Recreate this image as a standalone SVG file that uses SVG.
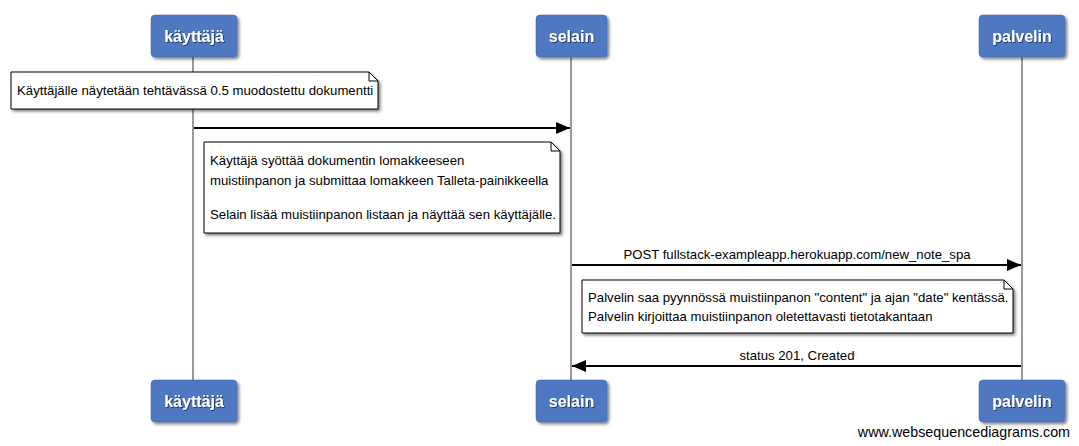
<svg xmlns="http://www.w3.org/2000/svg" width="1079" height="446" viewBox="0 0 1079 446">
<defs>
<style>
.actor rect.b{fill:#4f78c2;stroke:#3f63a8;stroke-width:0.5}
.actor text{font-family:"Liberation Sans",Arial,sans-serif;font-size:16px;font-weight:bold;fill:#fff;text-anchor:middle}
.note path.n{fill:#fff;stroke:#000;stroke-width:1}
.note text{font-family:"Liberation Sans",Arial,sans-serif;font-size:13.2px;fill:#000}
.lbl{font-family:"Liberation Sans",Arial,sans-serif;font-size:13.2px;fill:#000;text-anchor:middle}
.life{stroke:#999;stroke-width:2}
.msg{stroke:#000;stroke-width:2;fill:none}
</style>
<filter id="sh" x="-10%" y="-10%" width="130%" height="140%">
<feGaussianBlur in="SourceAlpha" stdDeviation="1.5"/>
<feOffset dx="2" dy="2" result="o"/>
<feComponentTransfer><feFuncA type="linear" slope="0.5"/></feComponentTransfer>
<feMerge><feMergeNode/><feMergeNode in="SourceGraphic"/></feMerge>
</filter>
<filter id="ts" x="-10%" y="-20%" width="130%" height="150%">
<feOffset dx="1" dy="1" in="SourceAlpha" result="o"/>
<feComponentTransfer in="o" result="o2"><feFuncA type="linear" slope="0.5"/></feComponentTransfer>
<feMerge><feMergeNode in="o2"/><feMergeNode in="SourceGraphic"/></feMerge>
</filter>
<marker id="ah" markerWidth="14" markerHeight="12" refX="14" refY="6" orient="auto" markerUnits="userSpaceOnUse">
<path d="M0,0 L14,6 L0,12 z" fill="#000"/>
</marker>
</defs>
<rect width="1079" height="446" fill="#fff"/>
<g id="lifelines">
<line class="life" x1="193" y1="57" x2="193" y2="380"/>
<line class="life" x1="571" y1="57" x2="571" y2="380"/>
<line class="life" x1="1022" y1="57" x2="1022" y2="380"/>
</g>
<g id="actor-kayttaja-top" class="actor">
<rect class="b" x="151" y="15" width="86" height="42" rx="4" filter="url(#sh)"/>
<text x="194" y="42" filter="url(#ts)">käyttäjä</text>
</g>
<g id="actor-selain-top" class="actor">
<rect class="b" x="536" y="15" width="71" height="42" rx="4" filter="url(#sh)"/>
<text x="571.5" y="42" filter="url(#ts)">selain</text>
</g>
<g id="actor-palvelin-top" class="actor">
<rect class="b" x="979" y="15" width="86" height="42" rx="4" filter="url(#sh)"/>
<text x="1022" y="42" filter="url(#ts)">palvelin</text>
</g>
<g id="actor-kayttaja-bottom" class="actor">
<rect class="b" x="151" y="380" width="86" height="42" rx="4" filter="url(#sh)"/>
<text x="194" y="407" filter="url(#ts)">käyttäjä</text>
</g>
<g id="actor-selain-bottom" class="actor">
<rect class="b" x="536" y="380" width="71" height="42" rx="4" filter="url(#sh)"/>
<text x="571.5" y="407" filter="url(#ts)">selain</text>
</g>
<g id="actor-palvelin-bottom" class="actor">
<rect class="b" x="979" y="380" width="86" height="42" rx="4" filter="url(#sh)"/>
<text x="1022" y="407" filter="url(#ts)">palvelin</text>
</g>
<g id="note1" class="note">
<path class="n" d="M11,72 H369 L378,81 V109 H11 Z" filter="url(#sh)"/>
<path d="M369,72 V81 H378" fill="none" stroke="#000"/>
<text x="17" y="95">Käyttäjälle näytetään tehtävässä 0.5 muodostettu dokumentti</text>
</g>
<g id="connectors">
<line class="msg" x1="194" y1="128" x2="570" y2="128" marker-end="url(#ah)"/>
<line class="msg" x1="572" y1="265" x2="1021" y2="265" marker-end="url(#ah)"/>
<text class="lbl" x="797" y="259">POST fullstack-exampleapp.herokuapp.com/new_note_spa</text>
<line class="msg" x1="1021" y1="366" x2="572" y2="366" marker-end="url(#ah)"/>
<text class="lbl" x="797" y="360">status 201, Created</text>
</g>
<g id="note2" class="note">
<path class="n" d="M204,142 H551 L560,151 V233 H204 Z" filter="url(#sh)"/>
<path d="M551,142 V151 H560" fill="none" stroke="#000"/>
<text x="210" y="165">Käyttäjä syöttää dokumentin lomakkeeseen</text>
<text x="210" y="185">muistiinpanon ja submittaa lomakkeen Talleta-painikkeella</text>
<text x="210" y="219">Selain lisää muistiinpanon listaan ja näyttää sen käyttäjälle.</text>
</g>
<g id="note3" class="note">
<path class="n" d="M582,280 H1004 L1013,289 V333 H582 Z" filter="url(#sh)"/>
<path d="M1004,280 V289 H1013" fill="none" stroke="#000"/>
<text x="588" y="302">Palvelin saa pyynnössä muistiinpanon "content" ja ajan "date" kentässä.</text>
<text x="588" y="321">Palvelin kirjoittaa muistiinpanon oletettavasti tietotakantaan</text>
</g>
<text x="1070" y="437" font-family="'Liberation Sans',Arial,sans-serif" font-size="14.3" text-anchor="end">www.websequencediagrams.com</text>
</svg>
